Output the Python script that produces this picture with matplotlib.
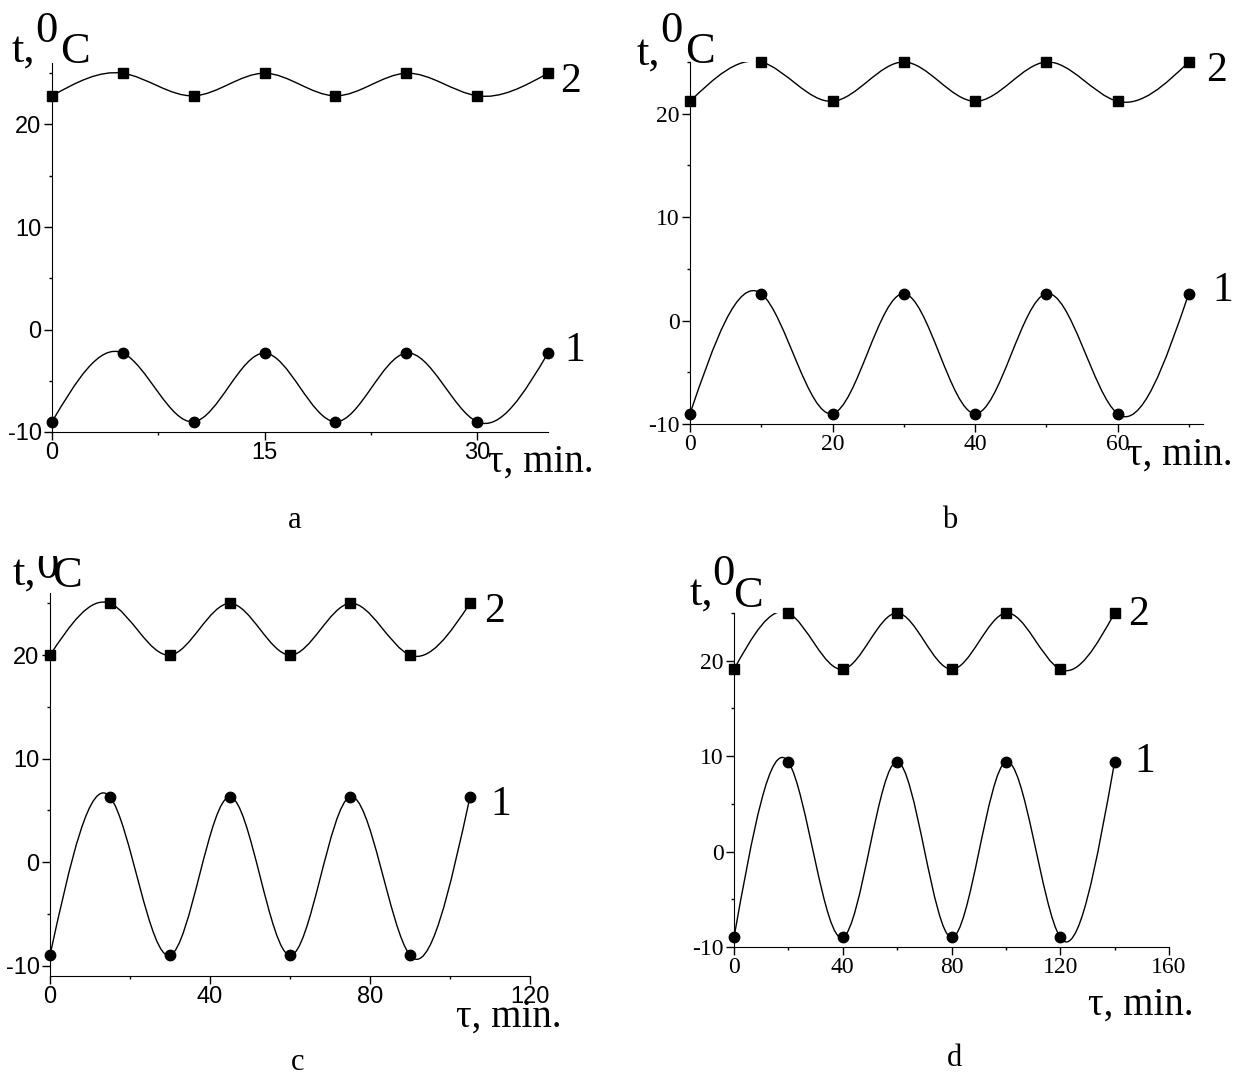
# Temperature oscillations t(tau), four regimes a-d
import numpy as np
import matplotlib.pyplot as plt
from matplotlib.path import Path
from matplotlib.patches import PathPatch
from matplotlib.ticker import MultipleLocator
from matplotlib.transforms import Bbox, TransformedBbox

plt.rcParams["axes.unicode_minus"] = False

W, H = 1244, 1083

# data: curve 1 (circles), curve 2 (squares)
a_time = [0, 5, 10, 15, 20, 25, 30, 35]
a_t1 = [-9, -2.3, -9, -2.3, -9, -2.3, -9, -2.3]
a_t2 = [22.8, 25, 22.8, 25, 22.8, 25, 22.8, 25]

b_time = [0, 10, 20, 30, 40, 50, 60, 70]
b_t1 = [-9, 2.6, -9, 2.6, -9, 2.6, -9, 2.6]
b_t2 = [21.2, 25, 21.2, 25, 21.2, 25, 21.2, 25]

c_time = [0, 15, 30, 45, 60, 75, 90, 105]
c_t1 = [-9, 6.3, -9, 6.3, -9, 6.3, -9, 6.3]
c_t2 = [20, 25, 20, 25, 20, 25, 20, 25]

d_time = [0, 20, 40, 60, 80, 100, 120, 140]
d_t1 = [-9, 9.4, -9, 9.4, -9, 9.4, -9, 9.4]
d_t2 = [19.1, 25, 19.1, 25, 19.1, 25, 19.1, 25]


def px(x, y):
    return x / W, 1 - y / H


def spline_path(x, y):
    # natural cubic spline through the points, drawn as bezier segments
    x = np.asarray(x, float)
    y = np.asarray(y, float)
    n = len(x)
    h = np.diff(x)
    A = np.zeros((n, n))
    r = np.zeros(n)
    A[0, 0] = A[-1, -1] = 1
    for i in range(1, n - 1):
        A[i, i - 1] = h[i - 1]
        A[i, i] = 2 * (h[i - 1] + h[i])
        A[i, i + 1] = h[i]
        r[i] = 6 * ((y[i + 1] - y[i]) / h[i] - (y[i] - y[i - 1]) / h[i - 1])
    M = np.linalg.solve(A, r)
    verts = [(x[0], y[0])]
    codes = [Path.MOVETO]
    for i in range(n - 1):
        s = (y[i + 1] - y[i]) / h[i]
        m0 = s - h[i] * (2 * M[i] + M[i + 1]) / 6
        m1 = s + h[i] * (M[i] + 2 * M[i + 1]) / 6
        verts += [(x[i] + h[i] / 3, y[i] + m0 * h[i] / 3),
                  (x[i + 1] - h[i] / 3, y[i + 1] - m1 * h[i] / 3),
                  (x[i + 1], y[i + 1])]
        codes += [Path.CURVE4] * 3
    return Path(verts, codes)


def panel(box, time, t1, t2, xlim, ylim, xmaj, tickfont, ticksize):
    l, t, r, b = box
    ax = fig.add_axes([l / W, 1 - b / H, (r - l) / W, (b - t) / H])
    for tt in (t1, t2):
        ax.add_patch(PathPatch(spline_path(time, tt), fill=False, lw=1.0, color="black"))
    ax.plot(time, t2, ls="none", marker="s", ms=6.5, color="black", clip_on=False)
    ax.plot(time, t1, ls="none", marker="o", ms=7.5, color="black", clip_on=False)
    ax.set_xlim(*xlim)
    ax.set_ylim(*ylim)
    ax.spines["top"].set_visible(False)
    ax.spines["right"].set_visible(False)
    ax.xaxis.set_major_locator(MultipleLocator(xmaj))
    ax.xaxis.set_minor_locator(MultipleLocator(xmaj / 2))
    ax.yaxis.set_minor_locator(MultipleLocator(5))
    ax.set_yticks([-10, 0, 10, 20])
    ax.tick_params(which="major", direction="out", length=5.5, width=1, pad=2)
    ax.tick_params(which="minor", direction="out", length=2.5, width=1)
    for lab in ax.get_xticklabels() + ax.get_yticklabels():
        lab.set_fontfamily(tickfont)
        lab.set_fontsize(ticksize)
    return ax


sans_narrow = ["Liberation Sans Narrow", "Liberation Sans"]
serif = ["Liberation Serif", "DejaVu Serif"]

fig = plt.figure(figsize=(W / 100, H / 100), dpi=100)

panel((52, 63, 548, 432), a_time, a_t1, a_t2, (0, 35), (-10, 26), 15, sans_narrow, 17)
panel((690, 62, 1203, 424), b_time, b_t1, b_t2, (0, 72), (-10, 25), 20, serif, 17)
panel((50, 593, 530, 976), c_time, c_t1, c_t2, (0, 120), (-11, 26), 40, sans_narrow, 17)
panel((734, 613, 1169, 947), d_time, d_t1, d_t2, (0, 160), (-10, 25), 40, serif, 17)

# y axis titles "t, 0C" (left x, baseline y for "t,", "0", "C")
big = dict(family=serif, fontsize=32, color="black")
ylab_pos = [(12, 62, 35, 42, 60, 63), (637, 65, 660, 42, 685, 63),
            (13, 585, 36, 578, 52, 587), (690, 605, 712, 585, 733, 607)]
for k, (x1, y1, x2, y2, x3, y3) in enumerate(ylab_pos):
    fig.text(*px(x1, y1), "t,", va="baseline", **big)
    zero = fig.text(*px(x2, y2), "0", va="baseline", **big)
    fig.text(*px(x3, y3), "C", va="baseline", **big)
    if k == 2:
        # the degree sign of panel c is cut at the top in the original
        zero.set_clip_box(TransformedBbox(Bbox([[0, 0], [1, 1 - 556 / H]]), fig.transFigure))
        zero.set_clip_on(True)

# x axis titles
for x, y in [(488, 472), (1127, 465), (456, 1027), (1088, 1015)]:
    fig.text(*px(x, y), "τ, min.", va="baseline", family=serif, fontsize=28)

# curve numbers
for x, y, s in [(560, 82, "2"), (564, 351, "1"), (1206, 71, "2"), (1212, 291, "1"),
                (484, 612, "2"), (490, 805, "1"), (1128, 615, "2"), (1134, 762, "1")]:
    fig.text(*px(x, y), s, va="center", family=serif, fontsize=30)

# panel letters
for x, y, s in [(295, 520, "a"), (950, 520, "b"), (298, 1062, "c"), (955, 1058, "d")]:
    fig.text(*px(x, y), s, ha="center", va="center", family=serif, fontsize=22)

fig.savefig("out.png", dpi=100)
